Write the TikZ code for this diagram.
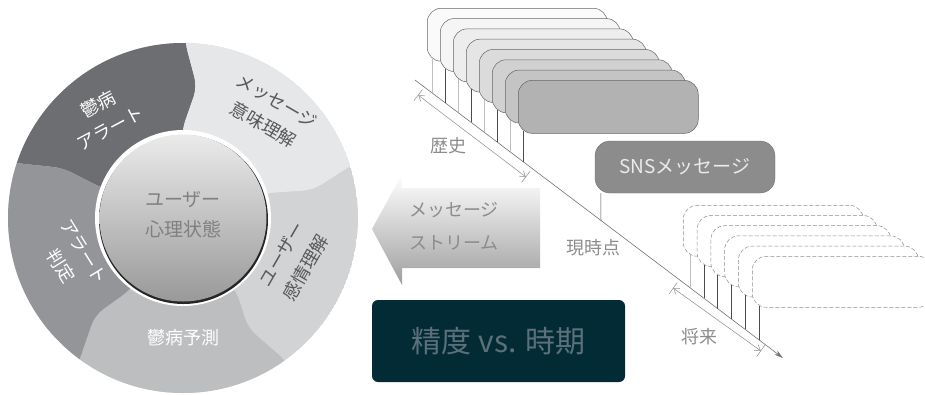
\documentclass[tikz,border=0pt]{standalone}
\usepackage{fontspec}
\setmainfont{Noto Sans CJK JP}
\usetikzlibrary{arrows.meta}

\definecolor{segdark}{HTML}{6D6E71}
\definecolor{seglight}{HTML}{E6E7E8}
\definecolor{segmid}{HTML}{D1D3D4}
\definecolor{segpred}{HTML}{BCBEC0}
\definecolor{segjudge}{HTML}{939598}
\definecolor{boxteal}{HTML}{032B36}
\definecolor{tealtext}{HTML}{5B7079}

\begin{document}
\begin{tikzpicture}[x=1pt,y=-1pt,
  wheeltext/.style={align=center, font=\fontsize{18}{27}\selectfont},
  note/.style={text=black!45, font=\fontsize{18}{20}\selectfont},
  histbox/.style={draw=black!60, line width=0.5pt, rounded corners=14pt, anchor=north west,
    minimum width=180pt, minimum height=53pt, inner sep=0pt},
  futbox/.style={draw=black!45, dash pattern=on 4pt off 2pt, line width=0.5pt, fill=white,
    rounded corners=14pt, anchor=north west, minimum width=180pt, minimum height=51pt, inner sep=0pt},
  stem/.style={line width=0.5pt},
  spanarrow/.style={draw=black!45, line width=0.5pt,
    {Bar[width=14pt]Straight Barb[length=5pt,width=7pt]}-{Straight Barb[length=5pt,width=7pt]Bar[width=14pt]}}]

  \clip (0,0) rectangle (925,394);

  % Wheel segments
  \begin{scope}
    \clip (183,218) circle (175pt);
    \fill[segmid] (183,218) circle (175pt);
    \fill[segdark, rounded corners=10pt] (183,218) -- (100,187) -- (63,168) -- (15,163) -- (-20,155)
      -- (-20,-20) -- (185,-20) -- (185,42) -- (197,87) -- (182,130) -- cycle;
    \fill[seglight, rounded corners=10pt] (183,218) -- (182,130) -- (197,87) -- (185,42) -- (185,-20)
      -- (420,-20) -- (420,140) -- (355,163) -- (313,190) -- (267,193) -- cycle;
    \fill[segpred, rounded corners=10pt] (183,218) -- (237,293) -- (248,328) -- (285,360) -- (320,420)
      -- (60,420) -- (80,358) -- (95,315) -- (130,290) -- cycle;
    \fill[segjudge, rounded corners=10pt] (183,218) -- (130,290) -- (95,315) -- (80,358) -- (60,420)
      -- (-20,420) -- (-20,155) -- (15,163) -- (63,168) -- (100,187) -- cycle;
  \end{scope}

  % Wheel labels
  \node[wheeltext, text=white, rotate=28] (alarm) at (104,116) {鬱病\\アラート};
  \node[wheeltext, text=black!65, rotate=-30] (meaning) at (270,113) {メッセージ\\意味理解};
  \node[wheeltext, text=black!65, rotate=60] (emotion) at (294,261) {ユーザー\\感情理解};
  \node[wheeltext, text=white] (predict) at (183,338) {鬱病予測};
  \node[wheeltext, text=white, rotate=-58] (judge) at (72,259) {アラート\\判定};

  % Hub in the middle
  \fill[white] (183,218) circle (88pt);
  \fill[black!85] (183.5,219.5) circle (84.5pt);
  \shade[top color=black!8, bottom color=black!40] (183,218) circle (83.5pt);
  \node[align=center, text=black!50, font=\fontsize{19}{30}\selectfont] (mind) at (183,215) {ユーザー\\心理状態};

  % Stream arrow
  \shade[top color=white, bottom color=black!38] (372,229) -- (402,174) -- (402,188) -- (540,188)
    -- (540,268) -- (402,268) -- (402,285) -- cycle;
  \node[align=center, text=black!45, font=\fontsize{18}{33}\selectfont] (stream) at (454,226) {メッセージ\\ストリーム};

  % Dark title box
  \node[fill=boxteal, rounded corners=6pt, minimum width=253pt, minimum height=82pt,
    text=tealtext, font=\fontsize{30}{36}\selectfont] (accuracy) at (498.5,341) {精度 vs. 時期};

  % Time axis
  \coordinate (tstart) at (415,80);
  \coordinate (tend) at (783,358);
  \draw[draw=black!55, line width=0.6pt, -{Stealth[length=9pt,width=5pt]}] (tstart) -- (tend);

  % Past messages
  \foreach \i/\tone/\stemc in {0/2/25,1/4/70,2/7/25,3/10/70,4/14/25,5/18/70,6/23/25,7/30/70} {
    \pgfmathsetmacro\hx{427+13*\i}
    \pgfmathsetmacro\hy{8+10.3*\i}
    \pgfmathsetmacro\sx{\hx+5}
    \pgfmathsetmacro\sy{80+(\sx-415)*0.7554}
    \coordinate (hfoot\i) at (\sx,\sy);
    \node[histbox, fill=black!\tone] (hist\i) at (\hx,\hy) {};
    \draw[stem, draw=black!\stemc] ([xshift=5pt,yshift=3pt]hist\i.south west) -- (hfoot\i);
  }

  % Current message
  \coordinate (now) at (601,220.5);
  \node[fill=black!45, draw=black!55, rounded corners=15pt, minimum width=180pt, minimum height=52pt,
    text=black!8, font=\fontsize{19}{20}\selectfont] (sns) at (685,167) {SNSメッセージ};
  \draw[stem, draw=black!70] ([xshift=6pt]sns.south west) -- (now);

  % Future messages
  \foreach \i/\stemc in {0/25,1/70,2/70,3/70,4/70,5/70} {
    \pgfmathsetmacro\fx{683+13.8*\i}
    \pgfmathsetmacro\fy{205+10.2*\i}
    \pgfmathsetmacro\sx{\fx+7}
    \pgfmathsetmacro\sy{80+(\sx-415)*0.7554}
    \coordinate (ffoot\i) at (\sx,\sy);
    \node[futbox] (fut\i) at (\fx,\fy) {};
    \draw[stem, draw=black!\stemc] ([xshift=7pt,yshift=2pt]fut\i.south west) -- (ffoot\i);
  }

  % Spans and labels
  \coordinate (pastA) at (418,95);
  \coordinate (pastB) at (526,177);
  \draw[spanarrow] (pastA) -- (pastB);
  \coordinate (futA) at (673,288);
  \coordinate (futB) at (761,351);
  \draw[spanarrow] (futA) -- (futB);
  \node[note] (pastlabel) at (448,146) {歴史};
  \node[note] (nowlabel) at (593,248) {現時点};
  \node[note] (futurelabel) at (699,337) {将来};
\end{tikzpicture}
\end{document}
